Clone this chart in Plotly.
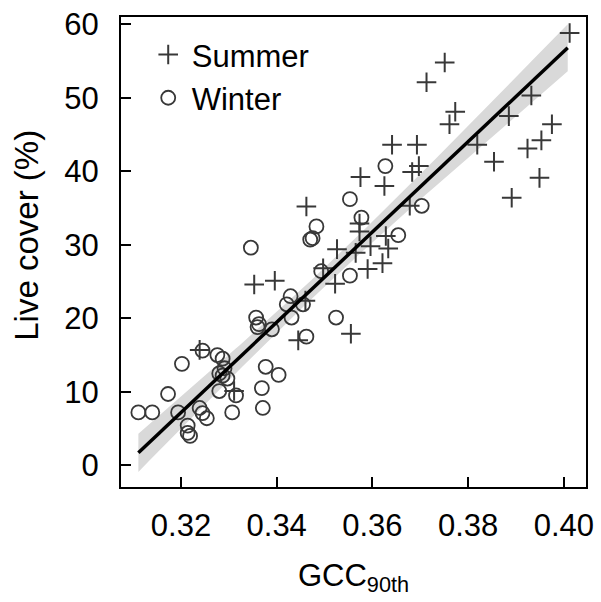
import numpy as np
import plotly.graph_objects as go

# Summer observations (GCC 90th percentile, live cover %)
summer_gcc = [0.4012, 0.3751, 0.3713, 0.3773, 0.3761, 0.3932, 0.3885, 0.3975, 0.3953, 0.3924,
              0.3819, 0.3854, 0.3949, 0.3891, 0.3641, 0.3693, 0.3697, 0.3683, 0.3575, 0.3625,
              0.3678, 0.3462, 0.3573, 0.3573, 0.3628, 0.3596, 0.3633, 0.3526, 0.3565, 0.3590,
              0.3621, 0.3497, 0.3522, 0.3353, 0.3396, 0.3460, 0.3555, 0.3445, 0.3239, 0.3311]
summer_cover = [58.8, 54.8, 52.1, 48.1, 46.4, 50.3, 47.5, 46.4, 44.2, 43.1,
                43.6, 41.3, 39.1, 36.4, 43.6, 43.6, 40.7, 39.9, 39.2, 38.0,
                35.3, 35.2, 32.9, 31.8, 31.2, 29.8, 29.5, 29.4, 28.9, 26.7,
                27.5, 26.8, 24.7, 24.6, 25.1, 22.4, 17.9, 17.0, 15.7, 10.1]

# Winter observations
winter_gcc = [0.3703, 0.3627, 0.3577, 0.3654, 0.3553, 0.3553, 0.3483, 0.3470, 0.3475, 0.3346,
              0.3493, 0.3429, 0.3421, 0.3455, 0.3431, 0.3524, 0.3357, 0.3363, 0.3360, 0.3390,
              0.3462, 0.3245, 0.3276, 0.3287, 0.3202, 0.3291, 0.3280, 0.3287, 0.3297, 0.3377,
              0.3404, 0.3173, 0.3280, 0.3315, 0.3369, 0.3111, 0.3140, 0.3194, 0.3239, 0.3245,
              0.3254, 0.3307, 0.3371, 0.3214, 0.3214, 0.3219]
winter_cover = [35.3, 40.7, 33.7, 31.3, 36.2, 25.8, 32.5, 30.7, 30.9, 29.6,
                26.4, 23.0, 21.9, 21.9, 20.1, 20.1, 20.1, 19.2, 18.8, 18.5,
                17.5, 15.6, 15.0, 14.5, 13.8, 13.2, 12.5, 12.2, 11.8, 13.4,
                12.3, 9.7, 10.1, 9.5, 10.5, 7.2, 7.2, 7.2, 7.8, 7.1,
                6.4, 7.2, 7.8, 5.4, 4.4, 4.0]

# Fitted regression line (end points)
fit_gcc = [0.3111, 0.4008]
fit_cover = [1.7, 56.8]

x_ticks = [0.32, 0.34, 0.36, 0.38, 0.40]
x_tick_labels = ["0.32", "0.34", "0.36", "0.38", "0.40"]
y_ticks = [0, 10, 20, 30, 40, 50, 60]
t_crit = 1.99  # 95% two-sided t quantile, ~84 df

# Regression line and its 95% confidence band
X = np.array(summer_gcc + winter_gcc)
Y = np.array(summer_cover + winter_cover)
b1 = (fit_cover[1] - fit_cover[0]) / (fit_gcc[1] - fit_gcc[0])
b0 = fit_cover[0] - b1 * fit_gcc[0]
n = len(X)
resid = Y - (b0 + b1 * X)
s = np.sqrt(np.sum(resid ** 2) / (n - 2))
xm = X.mean()
sxx = np.sum((X - xm) ** 2)
xs = np.linspace(fit_gcc[0], fit_gcc[1], 120)
ys = b0 + b1 * xs
se = s * np.sqrt(1.0 / n + (xs - xm) ** 2 / sxx)
lo = ys - t_crit * se
hi = ys + t_crit * se

mcol = "#383838"
font = "Liberation Sans, Arial, sans-serif"
FS = 31

fig = go.Figure()
fig.add_trace(go.Scatter(
    x=np.concatenate([xs, xs[::-1]]), y=np.concatenate([hi, lo[::-1]]),
    fill="toself", fillcolor="#d9d9d9", line=dict(width=0), mode="lines",
    hoverinfo="skip", showlegend=False))
fig.add_trace(go.Scatter(
    x=summer_gcc, y=summer_cover, mode="markers", name="Summer",
    marker=dict(symbol="cross-thin-open", size=14, color=mcol,
                line=dict(width=2, color=mcol))))
fig.add_trace(go.Scatter(
    x=winter_gcc, y=winter_cover, mode="markers", name="Winter",
    marker=dict(symbol="circle-open", size=14, color=mcol,
                line=dict(width=1.8, color=mcol))))
fig.add_trace(go.Scatter(
    x=xs, y=ys, mode="lines", line=dict(color="black", width=3.5),
    hoverinfo="skip", showlegend=False))

axis_common = dict(showline=True, linecolor="black", linewidth=2, mirror=True,
                   ticks="inside", ticklen=10, tickwidth=2, tickcolor="black",
                   showgrid=False, zeroline=False,
                   tickfont=dict(family=font, size=FS, color="black"))

fig.update_layout(
    width=601, height=602,
    margin=dict(l=121, r=7, t=11, b=115),
    paper_bgcolor="white", plot_bgcolor="white",
    font=dict(family=font, size=FS, color="black"),
    showlegend=True,
    legend=dict(x=0.051, y=0.977, xanchor="left", yanchor="top",
                font=dict(family=font, size=FS, color="black"),
                bgcolor="rgba(0,0,0,0)", tracegroupgap=0, itemwidth=37),
    xaxis=dict(range=[0.30747, 0.40462], tickvals=x_ticks, ticktext=x_tick_labels,
               ticklabelstandoff=10,
               title=dict(text="GCC<sub>90th</sub>", font=dict(family=font, size=FS), standoff=22),
               **axis_common),
    yaxis=dict(range=[-2.95, 60.98], tickvals=y_ticks, ticklabelstandoff=14,
               **axis_common),
    annotations=[dict(text="Live cover (%)", textangle=-90, xref="paper", yref="paper",
                      x=-0.205, y=0.536, xanchor="center", yanchor="middle",
                      showarrow=False, font=dict(family=font, size=FS + 2, color="black"))],
)

fig.write_html("out.html")
